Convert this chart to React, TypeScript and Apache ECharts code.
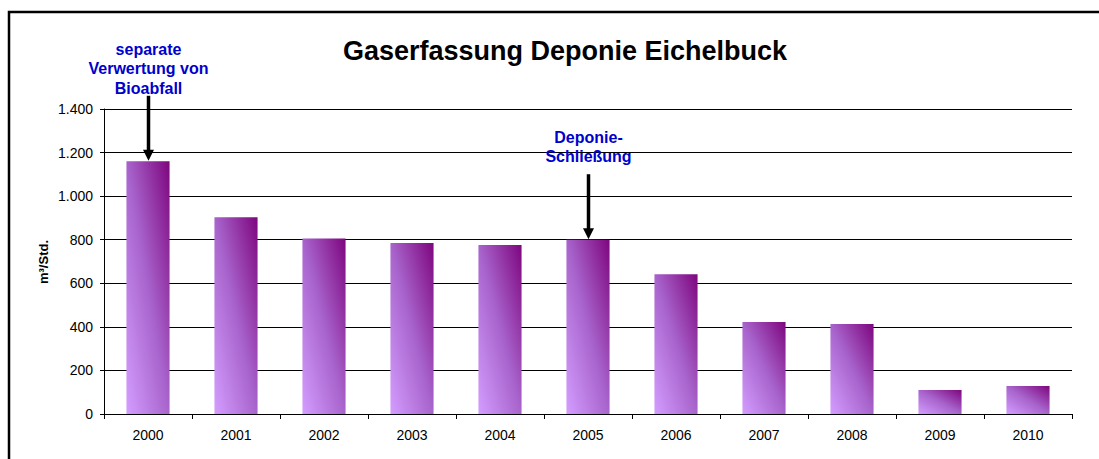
import React, { useEffect, useRef } from "react";
import * as echarts from "echarts";

const years = ["2000", "2001", "2002", "2003", "2004", "2005", "2006", "2007", "2008", "2009", "2010"];
const gasFlow = [1160, 903, 806, 785, 776, 800, 642, 422, 413, 110, 128];
const yTicks = { min: 0, max: 1400, interval: 200 };
const titleText = "Gaserfassung Deponie Eichelbuck";
const yAxisName = "m³/Std.";
const notes = [
  { year: "2000", text: "separate\nVerwertung von\nBioabfall" },
  { year: "2005", text: "Deponie-\nSchließung" },
];

const FONT = "'Liberation Sans', Arial, Helvetica, sans-serif";

function fmt(v: number): string {
  return String(v).replace(/\B(?=(\d{3})+(?!\d))/g, ".");
}

export default function App() {
  const ref = useRef<HTMLDivElement>(null);

  useEffect(() => {
    if (!ref.current) return;
    const chart = echarts.init(ref.current, null, { renderer: "svg" });
    const barGradient = new echarts.graphic.LinearGradient(0, 1, 1, 0, [
      { offset: 0, color: "#d49dff" },
      { offset: 0.5, color: "#a864cc" },
      { offset: 1, color: "#7e067e" },
    ]);
    chart.setOption({
      animation: false,
      backgroundColor: "#ffffff",
      textStyle: { fontFamily: FONT },
      grid: { left: 104, right: 27, top: 109, bottom: 45, containLabel: false },
      xAxis: {
        type: "category",
        data: years,
        boundaryGap: true,
        axisLine: { show: true, lineStyle: { color: "#000", width: 1 } },
        axisTick: { show: true, length: 5, alignWithLabel: false, lineStyle: { color: "#000" } },
        axisLabel: { color: "#000", fontSize: 14, fontFamily: FONT, margin: 14 },
        splitLine: { show: false },
      },
      yAxis: {
        type: "value",
        min: yTicks.min,
        max: yTicks.max,
        interval: yTicks.interval,
        axisLine: { show: true, lineStyle: { color: "#000", width: 1 } },
        axisTick: { show: true, length: 4, inside: false, lineStyle: { color: "#000" } },
        axisLabel: { color: "#000", fontSize: 14, fontFamily: FONT, margin: 11, formatter: (v: number) => fmt(v) },
        splitLine: { show: true, lineStyle: { color: "#000", width: 1 } },
      },
      series: [
        {
          type: "bar",
          data: gasFlow,
          barWidth: "49%",
          itemStyle: { color: barGradient },
        },
      ],
    });

    const graphics: any[] = [
      {
        type: "rect",
        shape: { x: 9, y: 12, width: 1200, height: 600 },
        style: { fill: "none", stroke: "#000", lineWidth: 2.5 },
        silent: true,
      },
      {
        type: "text",
        x: 565,
        y: 51,
        style: {
          text: titleText,
          font: `bold 27px ${FONT}`,
          fill: "#000",
          align: "center",
          verticalAlign: "middle",
        },
      },
      {
        type: "text",
        x: 43,
        y: 262,
        rotation: Math.PI / 2,
        style: {
          text: yAxisName,
          font: `bold 13px ${FONT}`,
          fill: "#000",
          align: "center",
          verticalAlign: "middle",
        },
      },
    ];

    notes.forEach((n) => {
      const idx = years.indexOf(n.year);
      const p = chart.convertToPixel({ seriesIndex: 0 }, [idx, gasFlow[idx]]) as number[];
      const x = Math.round(p[0]) + 0.5;
      const tip = p[1] - 0.5;
      const headH = 11;
      const headW = 11;
      graphics.push(
        {
          type: "line",
          shape: { x1: x, y1: tip - 65, x2: x, y2: tip - headH + 1 },
          style: { stroke: "#000", lineWidth: 3.5 },
        },
        {
          type: "polygon",
          shape: {
            points: [
              [x - headW / 2, tip - headH],
              [x + headW / 2, tip - headH],
              [x, tip],
            ],
          },
          style: { fill: "#000" },
        },
        {
          type: "text",
          x: x,
          y: tip - 92,
          style: {
            text: n.text,
            font: `bold 16px ${FONT}`,
            lineHeight: 19.5,
            fill: "#0000cc",
            align: "center",
            verticalAlign: "middle",
          },
        }
      );
    });

    chart.setOption({ graphic: graphics });

    return () => chart.dispose();
  }, []);

  return (
    <div
      ref={ref}
      style={{ position: "absolute", left: 0, top: 0, width: 1099, height: 459 }}
    />
  );
}
